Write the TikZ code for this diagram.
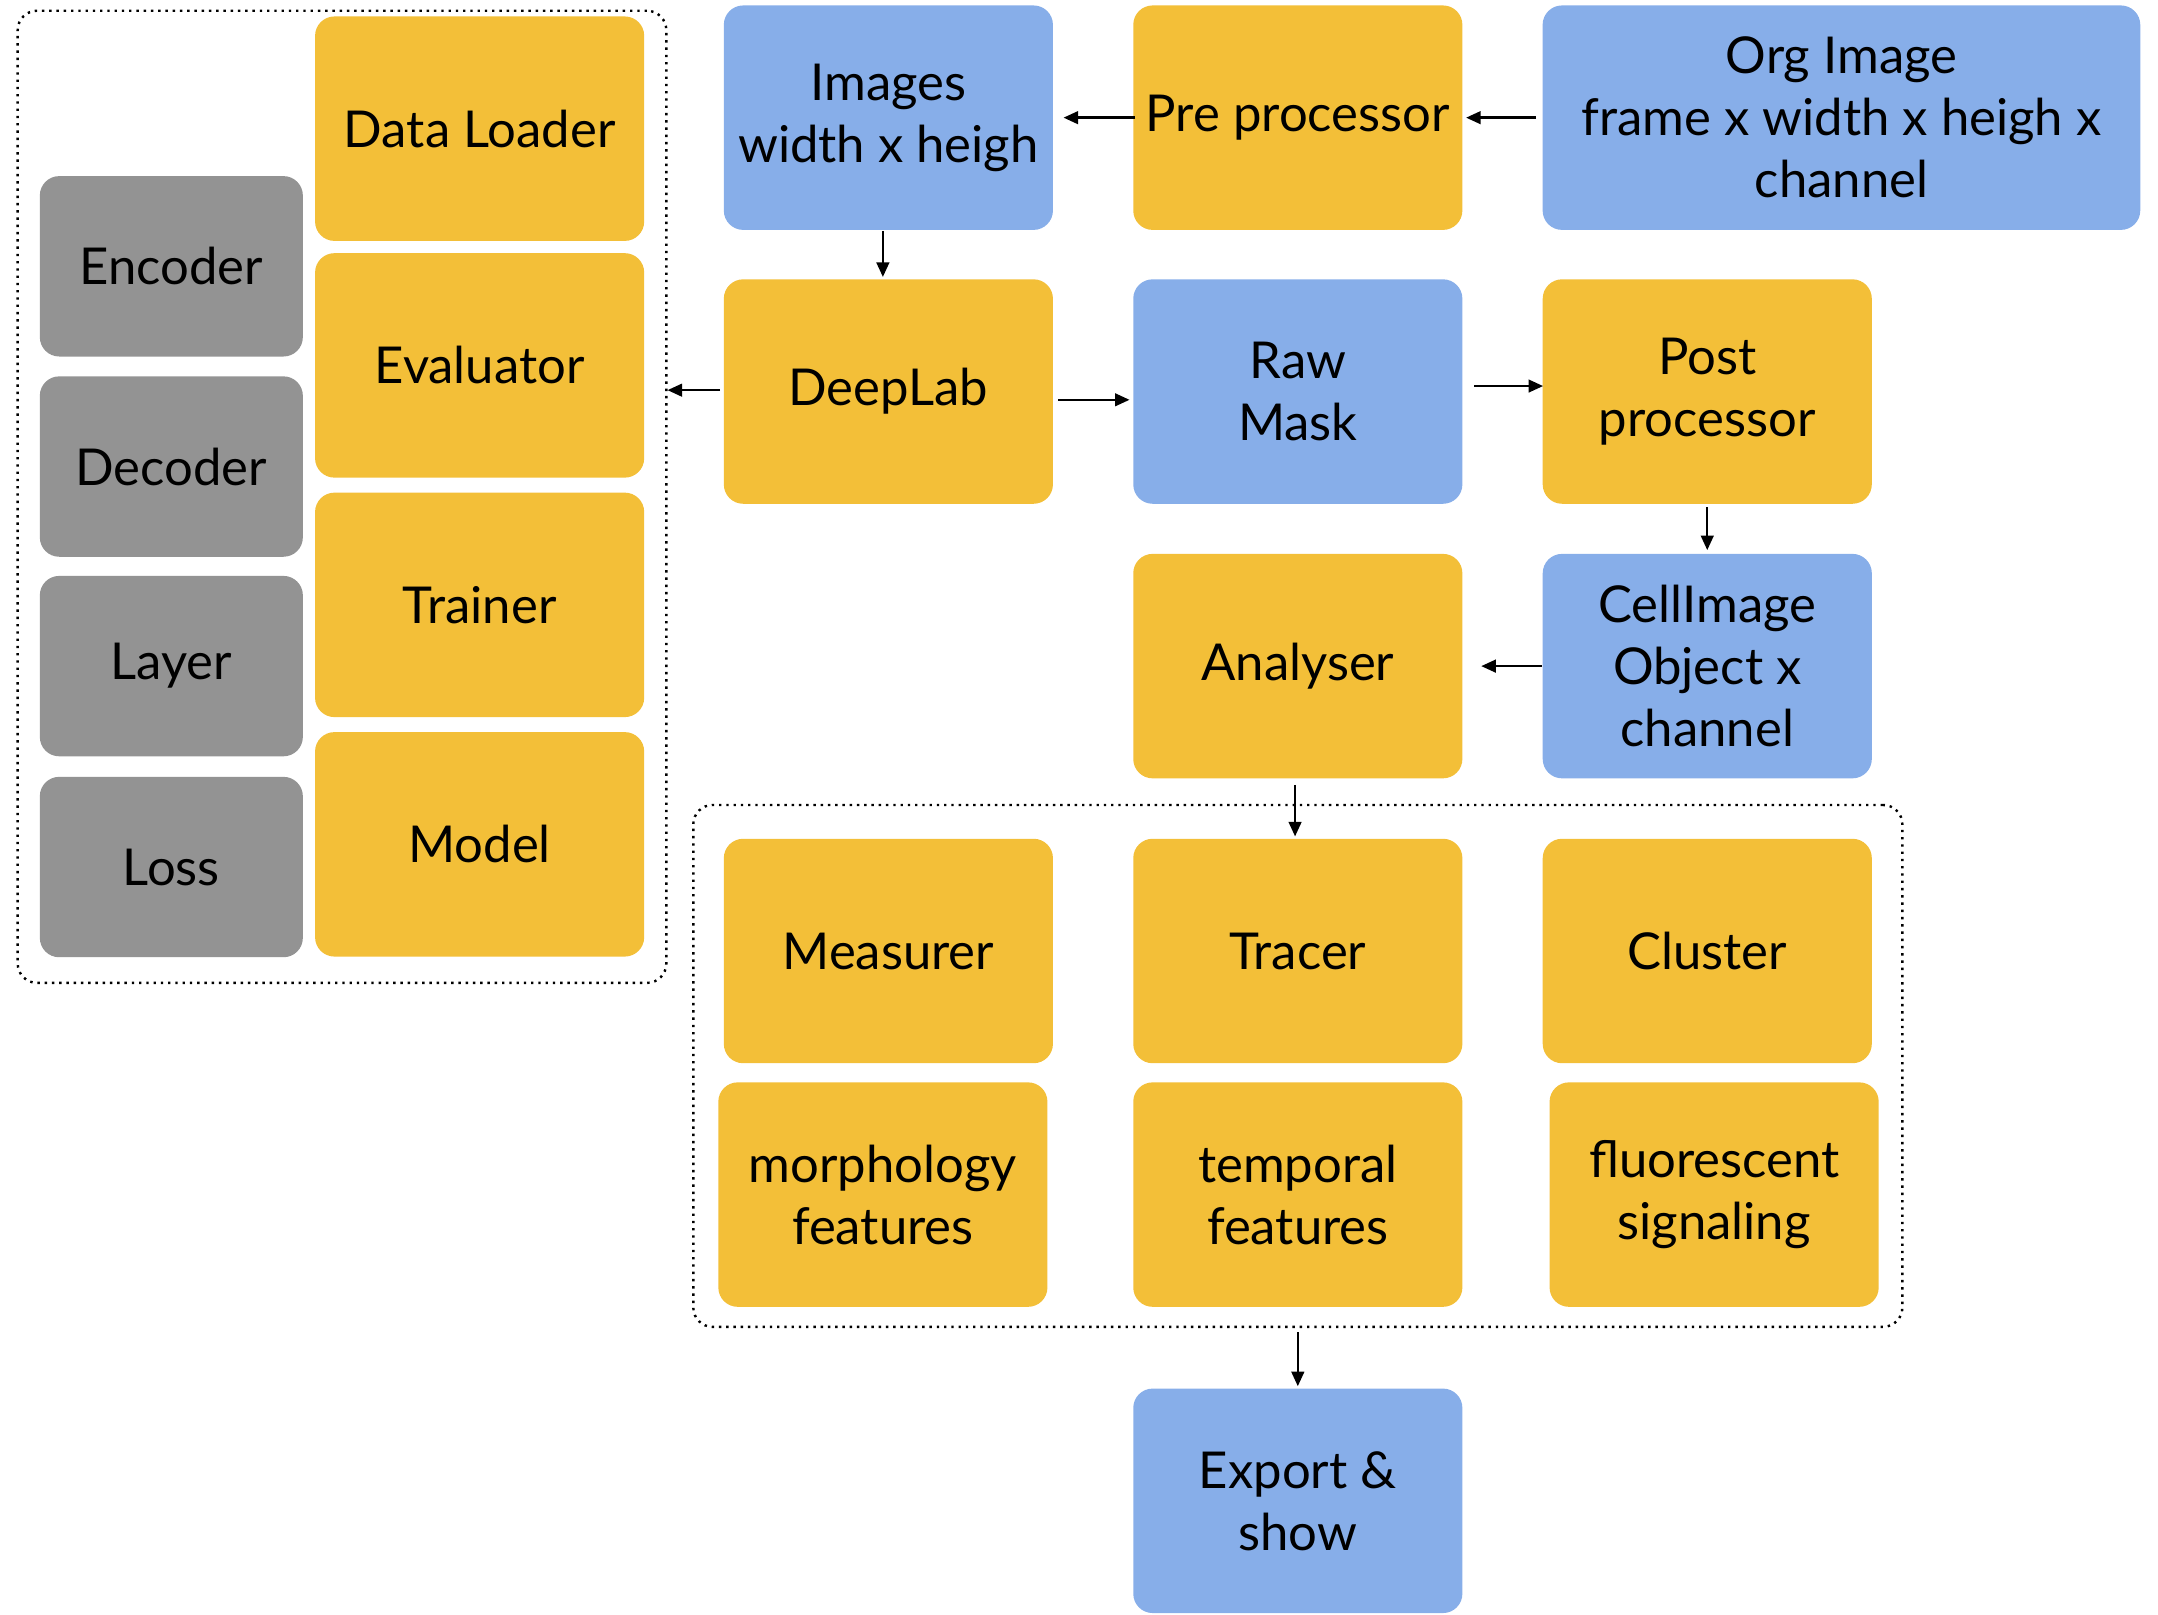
\documentclass[tikz,border=0pt]{standalone}
\usepackage{fontspec}
\setmainfont{Lato}
\usetikzlibrary{arrows.meta,calc}
\definecolor{cyel}{RGB}{243,191,56}
\definecolor{cblu}{RGB}{135,174,233}
\definecolor{cgry}{RGB}{147,147,147}
\begin{document}
\begin{tikzpicture}[x=0.01cm,y=-0.01cm,
  box/.style={rounded corners=4pt, inner sep=0pt, align=center,
    minimum width=2.39cm, minimum height=1.63cm,
    font=\fontsize{10.5}{12.8}\selectfont, text=black},
  ybox/.style={box, fill=cyel},
  bbox/.style={box, fill=cblu},
  gbox/.style={box, fill=cgry, minimum width=1.91cm, minimum height=1.31cm},
  grp/.style={draw=black, densely dotted, line width=0.5pt, rounded corners=4pt, inner sep=0pt},
  arr/.style={line width=0.5pt, -{Triangle[length=3pt,width=2.6pt]}}]
\useasboundingbox (0,0) rectangle (1568,1173);
% groups
\node[grp, minimum width=4.71cm, minimum height=7.06cm] (leftgrp) at (248.5,361) {};
\node[grp, minimum width=8.78cm, minimum height=3.79cm] (botgrp) at (943,774.5) {};
% left group
\node[ybox] (dataloader) at (348.5,93.5) {Data Loader};
\node[ybox] (evaluator) at (348.5,265.5) {Evaluator};
\node[ybox] (trainer) at (348.5,439.5) {Trainer};
\node[ybox] (model) at (348.5,613.5) {Model};
\node[gbox] (encoder) at (124.5,193.5) {Encoder};
\node[gbox] (decoder) at (124.5,339) {Decoder};
\node[gbox] (layer) at (124.5,484) {Layer};
\node[gbox] (loss) at (124.5,630) {Loss};
% pipeline
\node[bbox] (images) at (645.5,85.5) {Images\\width x heigh};
\node[ybox] (pre) at (943,85.5) {Pre processor};
\node[bbox, minimum width=4.34cm] (org) at (1338,85.5) {Org Image\\frame x width x heigh x\\channel};
\node[ybox] (deeplab) at (645.5,284.5) {DeepLab};
\node[bbox] (raw) at (943,284.5) {Raw\\Mask};
\node[ybox] (post) at (1240.5,284.5) {Post\\processor};
\node[ybox] (analyser) at (943,484) {Analyser};
\node[bbox] (cell) at (1240.5,484) {CellImage\\Object x\\channel};
% bottom group
\node[ybox] (measurer) at (645.5,691) {Measurer};
\node[ybox] (tracer) at (943,691) {Tracer};
\node[ybox] (cluster) at (1240.5,691) {Cluster};
\node[ybox] (morph) at (641.5,868) {morphology\\features};
\node[ybox] (temporal) at (943,868) {temporal\\features};
\node[ybox] (fluor) at (1245.5,868) {fluorescent\\signaling};
\node[bbox] (export) at (943,1090.5) {Export \&\\show};
% arrows
\draw[arr] ($(org.west)+(-4,0)$) -- ($(pre.east)+(2,0)$);
\draw[arr] ($(pre.west)+(2,0)$) -- ($(images.east)+(7,0)$);
\draw[arr] ($(images.south)+(-4,0)$) -- ($(deeplab.north)+(-4,-1)$);
\draw[arr] ($(deeplab.west)+(-2,-1)$) -- ($(deeplab.west -| leftgrp.east)+(0,-1)$);
\draw[arr] ($(deeplab.east)+(3,6)$) -- ($(raw.west)+(-2,6)$);
\draw[arr] ($(raw.east)+(8,-4)$) -- ($(post.west)+(1,-4)$);
\draw[arr] ($(post.south)+(0,2)$) -- ($(cell.north)+(0,-2)$);
\draw[arr] (cell.west) -- ($(analyser.east)+(13,0)$);
\draw[arr] ($(analyser.south)+(-2,4)$) -- ($(tracer.north)+(-2,-1)$);
\draw[arr] ($(botgrp.south)+(0,3)$) -- ($(export.north)+(0,-1)$);
\end{tikzpicture}
\end{document}
